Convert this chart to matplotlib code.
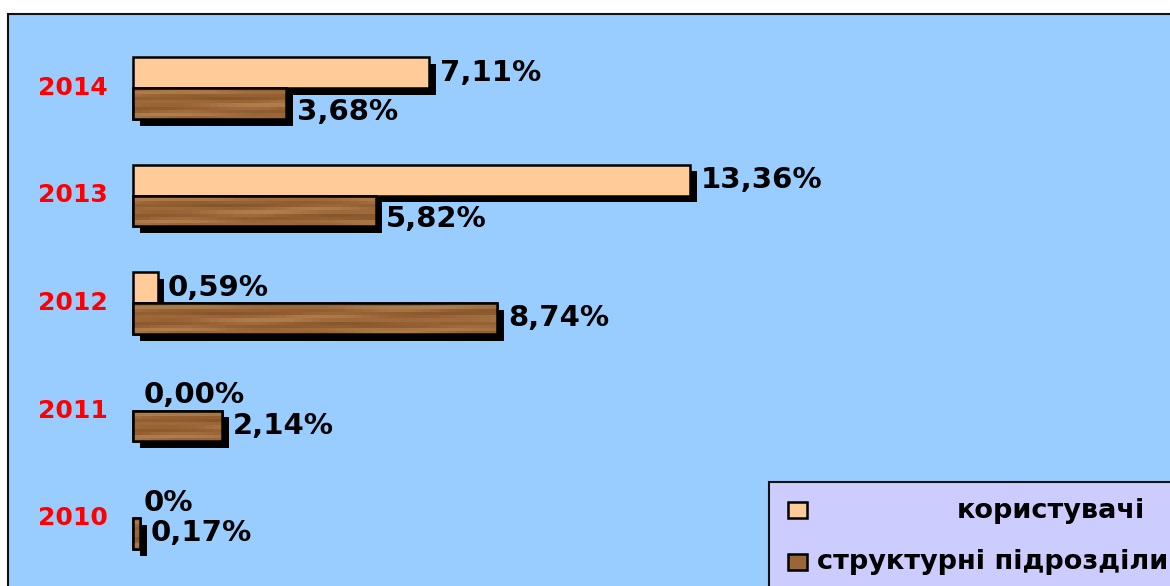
import numpy as np
import matplotlib
matplotlib.use('Agg')
import matplotlib.pyplot as plt
import matplotlib.patheffects as pe
from matplotlib.patches import Rectangle
from matplotlib.colors import LinearSegmentedColormap

# Data
years = ['2010', '2011', '2012', '2013', '2014']
users = [0.0, 0.0, 0.59, 13.36, 7.11]          # користувачі
units = [0.17, 2.14, 8.74, 5.82, 3.68]         # структурні підрозділи
users_labels = ['0%', '0,00%', '0,59%', '13,36%', '7,11%']
units_labels = ['0,17%', '2,14%', '8,74%', '5,82%', '3,68%']
legend_names = ['користувачі', 'структурні підрозділи']

# Colours
bg_blue = '#99CCFF'
legend_bg = '#CCCCFF'
light = '#FFCC99'
wood = '#9A6537'
wood_cmap = LinearSegmentedColormap.from_list('wood', ['#86562A', '#9A6537', '#B07D4C'])

W, H = 1170, 586
fig = plt.figure(figsize=(W / 100, H / 100), dpi=100)
fig.patch.set_facecolor('white')

# Plot area background with border
fig.patches.append(Rectangle((8 / W, -0.01), 1.0, (H - 14) / H + 0.01,
                             transform=fig.transFigure, facecolor=bg_blue,
                             edgecolor='#111111', linewidth=1.5, zorder=-1))

ax = fig.add_axes([0, 0, 1, 1])
ax.set_zorder(1)
ax.patch.set_visible(False)
px_per_pct = 41.7
xlim = (-133 / px_per_pct, (W - 133) / px_per_pct)
ylim = (-68 / 107.5, 4 + 88 / 107.5)
ax.axis('off')

y = np.arange(len(years))
bar_h = 0.288
shadow = [pe.SimplePatchShadow(offset=(4.8, -4.8), shadow_rgbFace='black', alpha=1.0), pe.Normal()]

lw_users = [0 if v == 0 else 1.8 for v in users]
bars_u = ax.barh(y + bar_h / 2, users, height=bar_h, color=light, edgecolor='black',
                 linewidth=lw_users, zorder=2)
bars_s = ax.barh(y - bar_h / 2, units, height=bar_h, color=wood, edgecolor='black',
                 linewidth=1.8, zorder=3)
for b in list(bars_u) + list(bars_s):
    b.set_path_effects(shadow)

# wood grain texture clipped to the brown bars, outline redrawn on top
rr, cc = np.mgrid[0:10, 0:60]
grain = 0.5 + 0.3 * np.sin(rr * 1.7 + 0.6 * np.sin(cc * 0.35)) + 0.2 * np.sin(cc * 0.21 + rr * 0.9)
for b in bars_s:
    x0, y0, bw, bh = b.get_x(), b.get_y(), b.get_width(), b.get_height()
    im = ax.imshow(grain[:, :max(2, int(bw * 5))], cmap=wood_cmap, vmin=0, vmax=1,
                   extent=(x0, x0 + bw, y0, y0 + bh), aspect='auto',
                   interpolation='nearest', zorder=3.5)
    im.set_clip_path(b)
ax.barh(y - bar_h / 2, units, height=bar_h, fill=False, edgecolor='black',
        linewidth=1.8, zorder=4)

ax.set_xlim(*xlim)
ax.set_ylim(*ylim)

lab_font = dict(fontsize=21, fontweight='bold', color='black', family='DejaVu Sans')
for i in range(len(years)):
    ax.annotate(users_labels[i], (users[i], y[i] + bar_h / 2), xytext=(7.5, 0),
                textcoords='offset points', ha='left', va='center', zorder=5, **lab_font)
    dy = -6 if users[i] > units[i] else 0
    ax.annotate(units_labels[i], (units[i], y[i] - bar_h / 2), xytext=(7.5, dy),
                textcoords='offset points', ha='left', va='center', zorder=5, **lab_font)
    ax.annotate(years[i], (0, y[i]), xytext=(-18, 0), textcoords='offset points',
                ha='right', va='center', fontsize=18, fontweight='bold', color='red',
                family='DejaVu Sans')

# Legend box
fig.patches.append(Rectangle((769 / W, -0.01), 1.0, (H - 482) / H + 0.01,
                             transform=fig.transFigure, facecolor=legend_bg,
                             edgecolor='#111111', linewidth=1.5, zorder=4))
fig.patches.append(Rectangle((788 / W, (H - 518) / H), 19 / W, 16 / H,
                             transform=fig.transFigure, facecolor=light,
                             edgecolor='black', linewidth=1.8, zorder=5))
fig.patches.append(Rectangle((788 / W, (H - 570) / H), 19 / W, 16 / H,
                             transform=fig.transFigure, facecolor=wood,
                             edgecolor='black', linewidth=1.8, zorder=5))
fig.text(1145 / W, (H - 518) / H, legend_names[0], ha='right', va='baseline',
         fontsize=19.5, fontweight='bold', family='DejaVu Sans', zorder=6)
fig.text(817 / W, (H - 569) / H, legend_names[1], ha='left', va='baseline',
         fontsize=19.5, fontweight='bold', family='DejaVu Sans', zorder=6)

fig.savefig('out.png', dpi=100, facecolor='white')
